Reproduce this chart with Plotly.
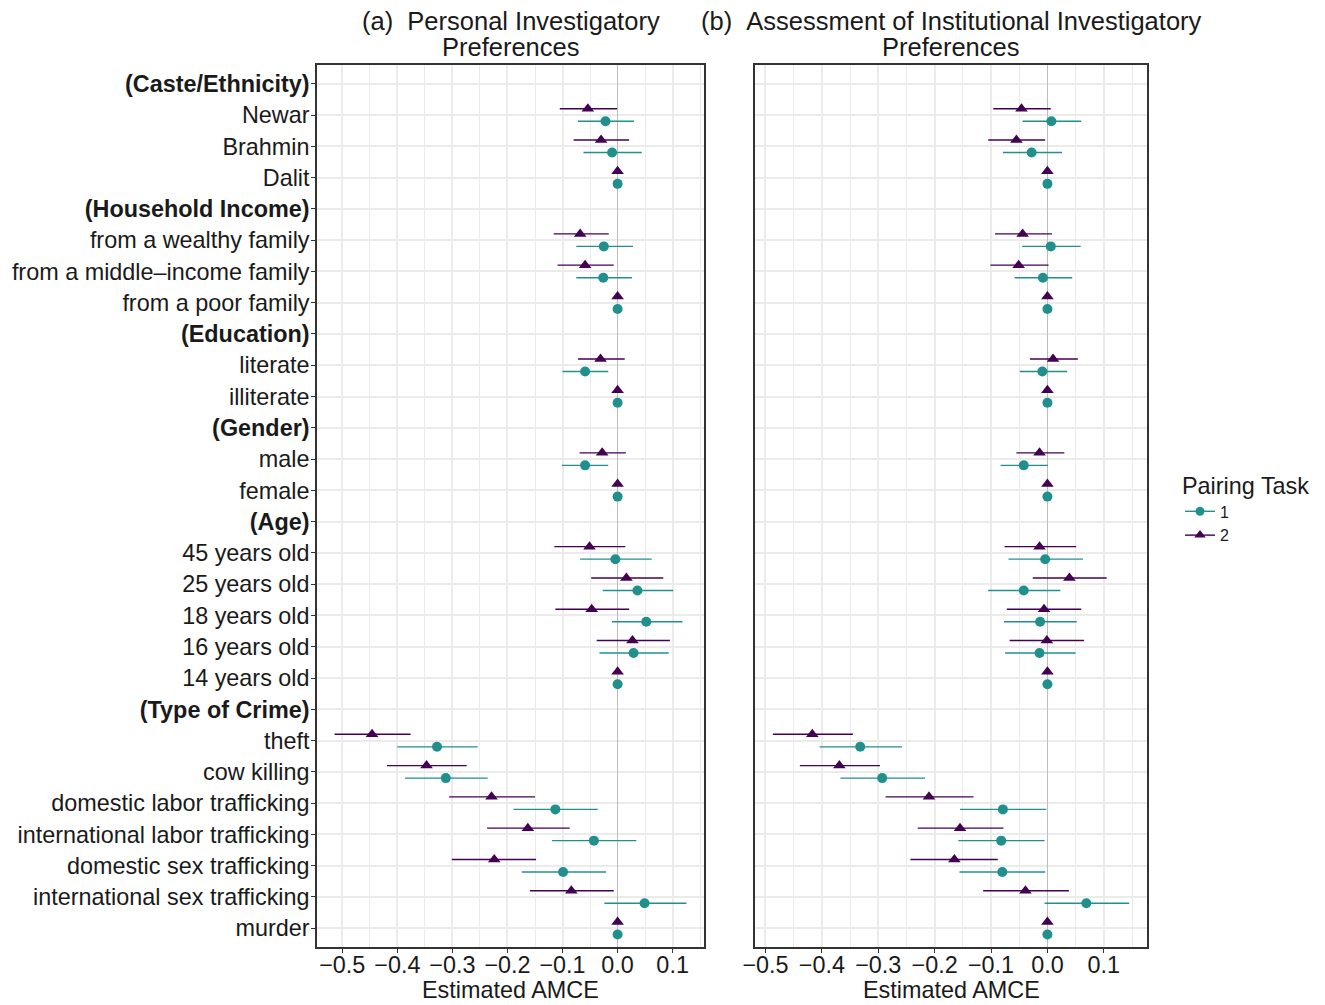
import plotly.graph_objects as go

# ---------------- data ----------------
row_labels = ["(Caste/Ethnicity)", "Newar", "Brahmin", "Dalit",
              "(Household Income)", "from a wealthy family", "from a middle\u2013income family", "from a poor family",
              "(Education)", "literate", "illiterate",
              "(Gender)", "male", "female",
              "(Age)", "45 years old", "25 years old", "18 years old", "16 years old", "14 years old",
              "(Type of Crime)", "theft", "cow killing", "domestic labor trafficking",
              "international labor trafficking", "domestic sex trafficking", "international sex trafficking", "murder"]
header_labels = ["(Caste/Ethnicity)", "(Household Income)", "(Education)", "(Gender)", "(Age)", "(Type of Crime)"]
level_labels = [r for r in row_labels if r not in header_labels]

# Panel (a): Personal Investigatory Preferences
a_task1_est = [-0.022, -0.010, 0, -0.025, -0.026, 0, -0.059, 0, -0.059, 0, -0.004, 0.036, 0.052, 0.029, 0,
               -0.328, -0.312, -0.113, -0.043, -0.099, 0.049, 0]
a_task1_lo = [-0.072, -0.062, 0, -0.075, -0.075, 0, -0.100, 0, -0.101, 0, -0.068, -0.027, -0.010, -0.033, 0,
              -0.400, -0.386, -0.189, -0.119, -0.174, -0.024, 0]
a_task1_hi = [0.030, 0.044, 0, 0.028, 0.026, 0, -0.017, 0, -0.017, 0, 0.062, 0.101, 0.118, 0.093, 0,
              -0.254, -0.236, -0.036, 0.034, -0.021, 0.125, 0]
a_task2_est = [-0.054, -0.030, 0, -0.068, -0.059, 0, -0.031, 0, -0.028, 0, -0.051, 0.016, -0.047, 0.027, 0,
               -0.446, -0.347, -0.229, -0.163, -0.224, -0.084, 0]
a_task2_lo = [-0.105, -0.080, 0, -0.116, -0.109, 0, -0.072, 0, -0.069, 0, -0.115, -0.048, -0.113, -0.038, 0,
              -0.514, -0.419, -0.306, -0.237, -0.301, -0.159, 0]
a_task2_hi = [-0.001, 0.021, 0, -0.016, -0.007, 0, 0.013, 0, 0.015, 0, 0.014, 0.083, 0.021, 0.095, 0,
              -0.376, -0.274, -0.150, -0.087, -0.148, -0.007, 0]

# Panel (b): Assessment of Institutional Investigatory Preferences
b_task1_est = [0.007, -0.028, 0, 0.006, -0.008, 0, -0.009, 0, -0.042, 0, -0.004, -0.042, -0.013, -0.014, 0,
               -0.332, -0.293, -0.079, -0.082, -0.080, 0.069, 0]
b_task1_lo = [-0.044, -0.079, 0, -0.045, -0.058, 0, -0.049, 0, -0.083, 0, -0.069, -0.105, -0.077, -0.075, 0,
              -0.404, -0.367, -0.155, -0.158, -0.156, -0.005, 0]
b_task1_hi = [0.060, 0.026, 0, 0.059, 0.044, 0, 0.035, 0, 0.001, 0, 0.063, 0.023, 0.052, 0.050, 0,
              -0.258, -0.217, -0.002, -0.005, -0.004, 0.145, 0]
b_task2_est = [-0.046, -0.055, 0, -0.044, -0.051, 0, 0.010, 0, -0.014, 0, -0.014, 0.039, -0.006, -0.001, 0,
               -0.417, -0.369, -0.210, -0.155, -0.165, -0.039, 0]
b_task2_lo = [-0.096, -0.105, 0, -0.093, -0.101, 0, -0.031, 0, -0.055, 0, -0.076, -0.026, -0.072, -0.067, 0,
              -0.487, -0.439, -0.287, -0.230, -0.243, -0.114, 0]
b_task2_hi = [0.006, -0.004, 0, 0.008, 0.002, 0, 0.054, 0, 0.030, 0, 0.051, 0.105, 0.060, 0.065, 0,
              -0.345, -0.297, -0.131, -0.078, -0.088, 0.038, 0]

panel_titles = [("(a)\u00a0\u00a0Personal Investigatory", "Preferences"),
                ("(b)\u00a0\u00a0Assessment of Institutional Investigatory", "Preferences")]
task_names = ["1", "2"]
x_tick_vals = [-0.5, -0.4, -0.3, -0.2, -0.1, 0.0, 0.1]
x_title = "Estimated AMCE"
legend_title = "Pairing Task"

# ---------------- style ----------------
OFF = 8                      # page body margin of the html page
W, H = 1325 - OFF, 1005 - OFF
FONT = "Liberation Sans, Arial, Helvetica, sans-serif"
TEAL = "#21908C"
PURPLE = "#440154"
GRID = "#EBEBEB"
BORDER = "#333333"
TXT = "#1a1a1a"
FS = 23.4
FS_TITLE = 25.5

n = len(row_labels)
row_y = {lab: n - 1 - i for i, lab in enumerate(row_labels)}
lvl_y = [row_y[l] for l in level_labels]
DODGE = 0.2

def px_x(p):
    return (p - OFF) / W

def px_y(p):
    return 1 - (p - OFF) / H

fig = go.Figure()

panels = [
    ("x", "y", (a_task1_est, a_task1_lo, a_task1_hi), (a_task2_est, a_task2_lo, a_task2_hi)),
    ("x2", "y2", (b_task1_est, b_task1_lo, b_task1_hi), (b_task2_est, b_task2_lo, b_task2_hi)),
]

ranges = []
for xa, ya, t1, t2 in panels:
    for (est, lo, hi), off, col, sym, sz in [
        (t1, -DODGE, TEAL, "circle", 10),
        (t2, DODGE, PURPLE, "triangle-up", 11),
    ]:
        fig.add_trace(go.Scatter(
            x=est, y=[v + off for v in lvl_y], xaxis=xa, yaxis=ya,
            mode="markers", showlegend=False,
            marker=dict(color=col, symbol=sym, size=sz, line=dict(width=0)),
            error_x=dict(type="data", symmetric=False,
                         array=[h - e for h, e in zip(hi, est)],
                         arrayminus=[e - l for e, l in zip(est, lo)],
                         width=0, thickness=1.4, color=col),
        ))
    allv = t1[1] + t1[2] + t2[1] + t2[2]
    lo_v, hi_v = min(allv), max(allv)
    pad = 0.05 * (hi_v - lo_v)
    ranges.append([lo_v - pad, hi_v + pad])

# legend entries
for name, col, sym, sz in [(task_names[0], TEAL, "circle", 9), (task_names[1], PURPLE, "triangle-up", 10)]:
    fig.add_trace(go.Scatter(x=[None], y=[None], mode="lines+markers", name=name,
                             line=dict(color=col, width=1.4),
                             marker=dict(color=col, symbol=sym, size=sz)))

x_domains = [[px_x(317), px_x(704)], [px_x(755), px_x(1147)]]
y_domain = [px_y(947), px_y(65)]

ticktext = [f"<b>{l}</b>" if l in header_labels else l for l in row_labels]

common_x = dict(
    tickvals=x_tick_vals, tickformat=".1f",
    showgrid=True, gridcolor=GRID, gridwidth=1.5,
    minor=dict(dtick=0.05, tick0=0, showgrid=True, gridcolor=GRID, gridwidth=0.8, ticks=""),
    zeroline=True, zerolinecolor="#BDBDBD", zerolinewidth=1.2,
    showline=True, mirror=True, linecolor=BORDER, linewidth=1.5,
    ticks="outside", ticklen=4, tickcolor=BORDER, tickwidth=1.2,
    ticklabelstandoff=-8,
    tickfont=dict(size=FS, color=TXT, family=FONT),
    automargin=False,
)
common_y = dict(
    range=[-0.6, n - 1 + 0.6],
    tickvals=list(range(n)),
    showgrid=True, gridcolor=GRID, gridwidth=1.5,
    zeroline=False,
    showline=True, mirror=True, linecolor=BORDER, linewidth=1.5,
    automargin=False,
    domain=y_domain,
)

fig.update_layout(
    xaxis=dict(domain=x_domains[0], range=ranges[0], anchor="y", **common_x),
    xaxis2=dict(domain=x_domains[1], range=ranges[1], anchor="y2", **common_x),
    yaxis=dict(anchor="x", ticks="outside", ticklen=4, tickcolor=BORDER, tickwidth=1.2,
               ticklabelstandoff=-3,
               ticktext=[ticktext[n - 1 - i] for i in range(n)],
               tickfont=dict(size=FS, color=TXT, family=FONT), **common_y),
    yaxis2=dict(anchor="x2", ticks="", showticklabels=False, **common_y),
)

for dom in x_domains:
    cx = (dom[0] + dom[1]) / 2
    fig.add_annotation(x=cx, y=px_y(990), xref="paper", yref="paper", text=x_title,
                       showarrow=False, xanchor="center", yanchor="middle",
                       font=dict(size=FS, color=TXT, family=FONT))
for dom, (l1, l2) in zip(x_domains, panel_titles):
    cx = (dom[0] + dom[1]) / 2
    fig.add_annotation(x=cx, y=px_y(21), xref="paper", yref="paper", text=l1,
                       showarrow=False, xanchor="center", yanchor="middle",
                       font=dict(size=FS_TITLE, color=TXT, family=FONT))
    fig.add_annotation(x=cx, y=px_y(47.5), xref="paper", yref="paper", text=l2,
                       showarrow=False, xanchor="center", yanchor="middle",
                       font=dict(size=FS_TITLE, color=TXT, family=FONT))

fig.update_layout(
    width=W, height=H,
    margin=dict(l=0, r=0, t=0, b=0),
    paper_bgcolor="white", plot_bgcolor="white",
    font=dict(family=FONT, color=TXT),
    legend=dict(x=px_x(1180), y=px_y(464), xanchor="left", yanchor="top",
                title=dict(text=legend_title, font=dict(size=FS, family=FONT, color=TXT)),
                font=dict(size=16, family=FONT, color=TXT),
                itemwidth=30, tracegroupgap=0, bgcolor="rgba(0,0,0,0)"),
)

fig.write_html("out.html")
